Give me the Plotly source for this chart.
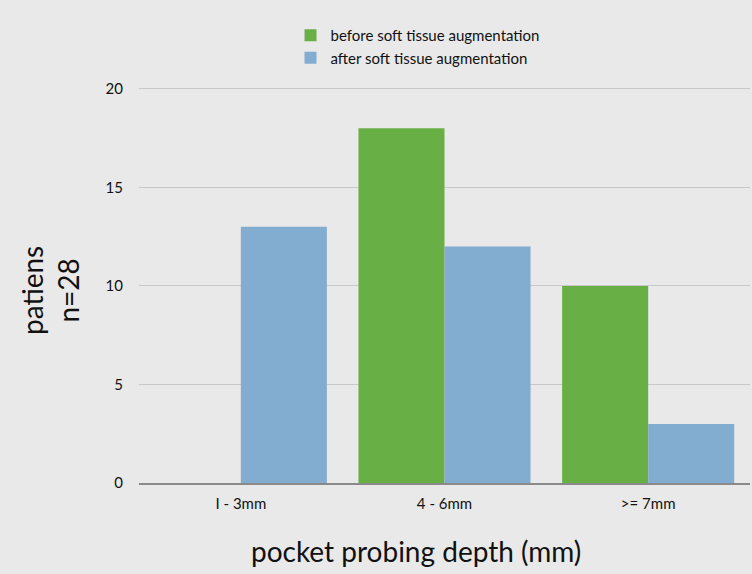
import plotly.graph_objects as go

categories = ["I - 3mm", "4 - 6mm", ">= 7mm"]
before_values = [0, 18, 10]
after_values = [13, 12, 3]
series_names = ["before soft tissue augmentation", "after soft tissue augmentation"]
y_ticks = [0, 5, 10, 15, 20]

FONT = "Lato, 'Open Sans', sans-serif"
BG = "#e9e9e9"

fig = go.Figure()
fig.add_trace(go.Bar(
    x=categories, y=before_values, name=series_names[0],
    marker=dict(color="#68b046", line=dict(width=0)),
))
fig.add_trace(go.Bar(
    x=categories, y=after_values, name=series_names[1],
    marker=dict(color="#82acd0", line=dict(width=0)),
))

fig.update_layout(
    width=752, height=574,
    margin=dict(l=139, r=2, t=83, b=91),
    paper_bgcolor=BG, plot_bgcolor=BG,
    barmode="group", bargap=0.155, bargroupgap=0,
    font=dict(family=FONT, color="#111111", size=15),
    showlegend=True,
    legend=dict(
        x=0.248, y=1.16, xanchor="left", yanchor="top",
        bgcolor="rgba(0,0,0,0)", font=dict(size=15, color="#111111"),
        itemsizing="constant", tracegroupgap=0,
    ),
    xaxis=dict(
        showgrid=False, showline=True, linecolor="#8a8a8a", linewidth=1.5,
        ticks="outside", ticklen=6, tickcolor="rgba(0,0,0,0)",
        tickfont=dict(size=15),
    ),
    yaxis=dict(
        range=[0, 20.3], tickvals=y_ticks, showgrid=True,
        gridcolor="#c8c8c8", gridwidth=1.3, zeroline=False,
        ticks="outside", ticklen=12, tickcolor="rgba(0,0,0,0)",
        tickfont=dict(size=15), showline=False,
    ),
)

fig.add_annotation(
    text="patiens<br>n=28", textangle=-90, showarrow=False,
    xref="paper", yref="paper", x=-0.146, y=0.482,
    xanchor="center", yanchor="middle",
    font=dict(size=28, family=FONT, color="#111111"),
)
fig.add_annotation(
    text="pocket probing depth (mm)", showarrow=False,
    xref="paper", yref="paper", x=0.453, y=-0.17,
    xanchor="center", yanchor="middle",
    font=dict(size=28, family=FONT, color="#111111"),
)

fig.write_html("out.html")
